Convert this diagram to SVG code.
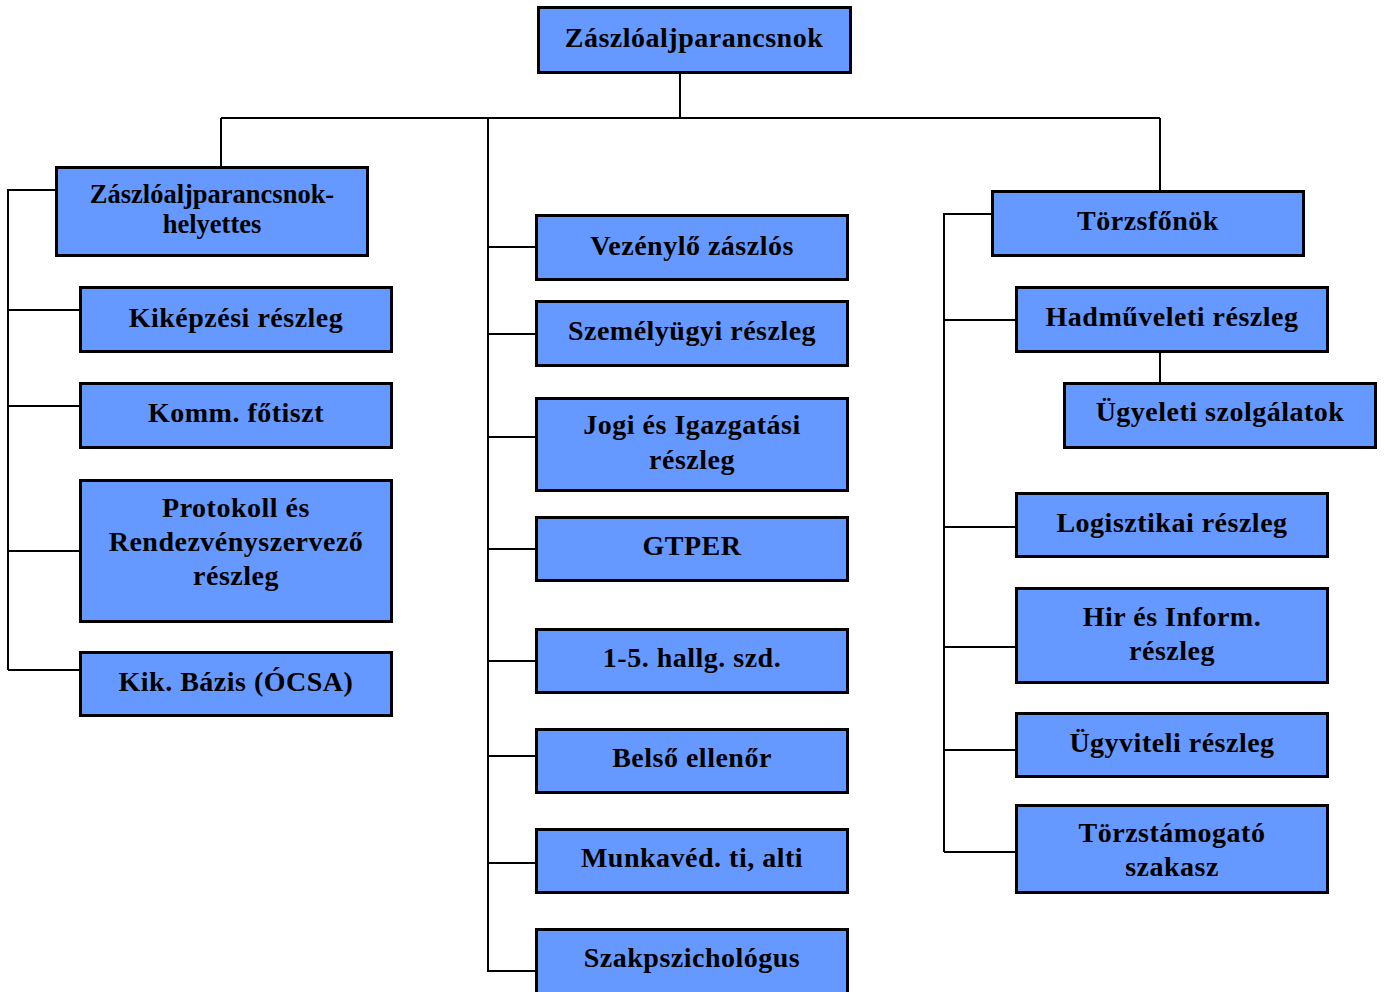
<svg xmlns="http://www.w3.org/2000/svg" width="1385" height="992" viewBox="0 0 1385 992">
<style>
.box{fill:#6699FF;stroke:#000;stroke-width:3}
.t{font-family:"Liberation Serif","Times New Roman",serif;font-weight:bold;font-size:28px;letter-spacing:0.5px;text-anchor:middle;fill:#000}
.t2{font-size:26.5px;letter-spacing:0}
.c{fill:none;stroke:#000;stroke-width:2}
</style>
<rect width="1385" height="992" fill="#fff"/>
<g id="connectors" class="c">
<path d="M680 74V118M221 118H1160M221 118V166M1160 118V190M488 118V972"/>
<path d="M488 247H535M488 334H535M488 437H535M488 549H535M488 661H535M488 756H535M488 863H535M488 971H535"/>
<path d="M55 190H8V670M8 310H79M8 406H79M8 551H79M8 670H79"/>
<path d="M991 214H944V852M944 320H1015M944 527H1015M944 647H1015M944 750H1015M944 852H1015"/>
<path d="M1160 353V382"/>
</g>
<g id="n-top"><rect class="box" x="538.5" y="7.5" width="312" height="65"/><text class="t" x="694" y="47">Zászlóaljparancsnok</text></g>
<g id="n-zph"><rect class="box" x="56.5" y="167.5" width="311" height="88"/><text class="t t2" x="212" y="203">Zászlóaljparancsnok-</text><text class="t t2" x="212" y="233">helyettes</text></g>
<g id="n-kikepzesi"><rect class="box" x="80.5" y="287.5" width="311" height="64"/><text class="t" x="236" y="327">Kiképzési részleg</text></g>
<g id="n-komm"><rect class="box" x="80.5" y="383.5" width="311" height="64"/><text class="t" x="236" y="422">Komm. főtiszt</text></g>
<g id="n-protokoll"><rect class="box" x="80.5" y="480.5" width="311" height="141"/><text class="t" x="236" y="517">Protokoll és</text><text class="t" x="236" y="551">Rendezvényszervező</text><text class="t" x="236" y="585">részleg</text></g>
<g id="n-kikbazis"><rect class="box" x="80.5" y="652.5" width="311" height="63"/><text class="t" x="236" y="691">Kik. Bázis (ÓCSA)</text></g>
<g id="n-vezenylo"><rect class="box" x="536.5" y="215.5" width="311" height="64"/><text class="t" x="692" y="255">Vezénylő zászlós</text></g>
<g id="n-szemelyugyi"><rect class="box" x="536.5" y="301.5" width="311" height="64"/><text class="t" x="692" y="340">Személyügyi részleg</text></g>
<g id="n-jogi"><rect class="box" x="536.5" y="398.5" width="311" height="92"/><text class="t" x="692" y="434">Jogi és Igazgatási</text><text class="t" x="692" y="469">részleg</text></g>
<g id="n-gtper"><rect class="box" x="536.5" y="517.5" width="311" height="63"/><text class="t" x="692" y="555">GTPER</text></g>
<g id="n-hallg"><rect class="box" x="536.5" y="629.5" width="311" height="63"/><text class="t" x="692" y="667">1-5. hallg. szd.</text></g>
<g id="n-belso"><rect class="box" x="536.5" y="729.5" width="311" height="63"/><text class="t" x="692" y="767">Belső ellenőr</text></g>
<g id="n-munkaved"><rect class="box" x="536.5" y="829.5" width="311" height="63"/><text class="t" x="692" y="867">Munkavéd. ti, alti</text></g>
<g id="n-szakpszich"><rect class="box" x="536.5" y="929.5" width="311" height="64"/><text class="t" x="692" y="967">Szakpszichológus</text></g>
<g id="n-torzsfonok"><rect class="box" x="992.5" y="191.5" width="311" height="64"/><text class="t" x="1148" y="230">Törzsfőnök</text></g>
<g id="n-hadmuveleti"><rect class="box" x="1016.5" y="287.5" width="311" height="64"/><text class="t" x="1172" y="326">Hadműveleti részleg</text></g>
<g id="n-ugyeleti"><rect class="box" x="1064.5" y="383.5" width="311" height="64"/><text class="t" x="1220" y="421">Ügyeleti szolgálatok</text></g>
<g id="n-logisztikai"><rect class="box" x="1016.5" y="493.5" width="311" height="63"/><text class="t" x="1172" y="532">Logisztikai részleg</text></g>
<g id="n-hir"><rect class="box" x="1016.5" y="588.5" width="311" height="94"/><text class="t" x="1172" y="626">Hir és Inform.</text><text class="t" x="1172" y="660">részleg</text></g>
<g id="n-ugyviteli"><rect class="box" x="1016.5" y="713.5" width="311" height="63"/><text class="t" x="1172" y="752">Ügyviteli részleg</text></g>
<g id="n-torzstamogato"><rect class="box" x="1016.5" y="805.5" width="311" height="87"/><text class="t" x="1172" y="842">Törzstámogató</text><text class="t" x="1172" y="876">szakasz</text></g>
</svg>
